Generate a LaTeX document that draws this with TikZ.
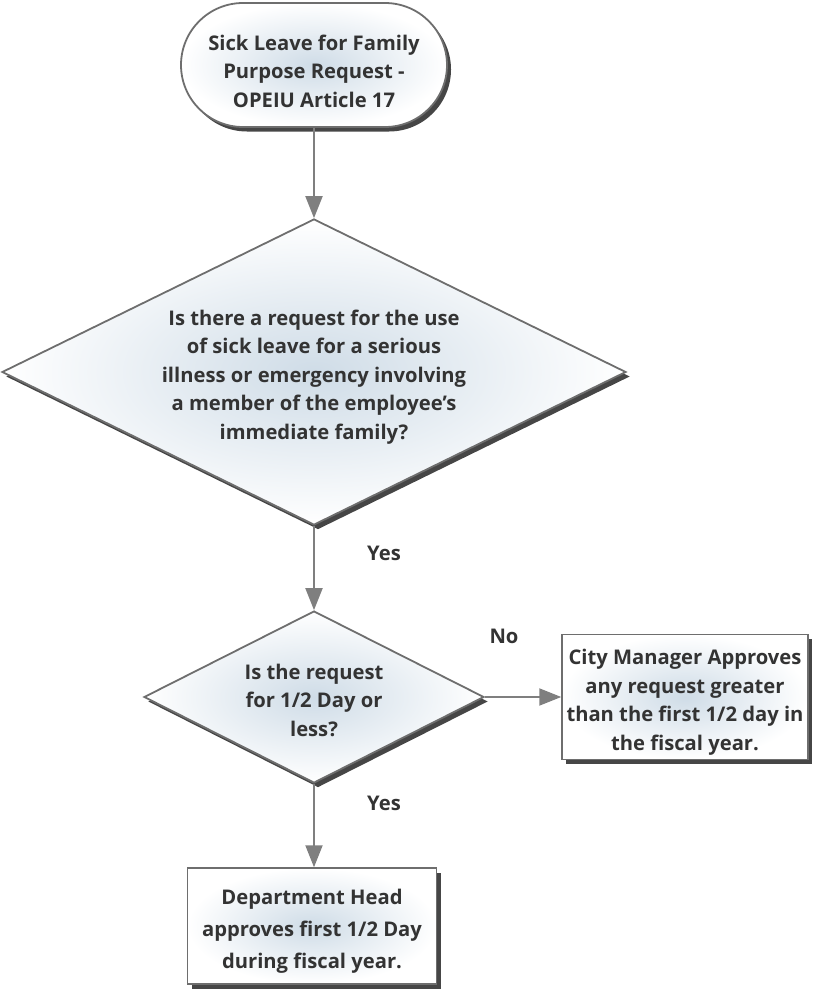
\documentclass[tikz,border=0pt]{standalone}
\usepackage{fontspec}
\setmainfont{Open Sans}
\usetikzlibrary{shapes.geometric,shapes.misc,shadows,arrows.meta}
\definecolor{txt}{HTML}{333333}
\definecolor{edge}{HTML}{6E6E6E}
\definecolor{arr}{HTML}{7F7F7F}
\definecolor{inner}{HTML}{CFDCE7}
\tikzset{
  base/.style={draw=edge, line width=1.8pt, shading=radial, inner color=inner, outer color=white,
    drop shadow={shadow xshift=4pt, shadow yshift=-4.5pt, fill=black!85, opacity=0.85},
    inner sep=0pt},
  term/.style={base, rounded rectangle, minimum width=266pt, minimum height=124pt},
  decide/.style={base, diamond, aspect=2},
  procbox/.style={base, rectangle, line width=1.5pt},
  btext/.style={font=\fontsize{20.2}{28.5}\selectfont\bfseries, text=txt, align=center, inner sep=0pt},
  conn/.style={draw=arr, line width=2pt, -{Triangle[length=22pt, width=17pt]}},
  lbl/.style={font=\fontsize{20.2}{24}\selectfont\bfseries, text=txt},
}
\begin{document}
\begin{tikzpicture}[x=1pt,y=-1pt]
\useasboundingbox (0,0) rectangle (816,998);
\node[term] (start) at (314,65) {};
\node[decide, minimum width=624pt, minimum height=306pt] (q1) at (314,372) {};
\node[decide, minimum width=340pt, minimum height=172pt] (q2) at (314,697) {};
\node[procbox, minimum width=246pt, minimum height=125pt] (cm) at (685,697) {};
\node[procbox, minimum width=249pt, minimum height=116pt] (dh) at (312,926) {};
\node[btext] (start-t) at ([yshift=-6pt]start.center) {Sick Leave for Family\\Purpose Request -\\OPEIU Article 17};
\node[btext] (q1-t) at ([yshift=-5pt]q1.center)
  {Is there a request for the use\\of sick leave for a serious\\illness or emergency involving\\a member of the employee's\\immediate family?};
\node[btext] (q2-t) at ([yshift=-3pt]q2.center) {Is the request\\for 1/2 Day or\\less?};
\node[btext] (cm-t) at ([yshift=-5pt]cm.center)
  {City Manager Approves\\any request greater\\than the first 1/2 day in\\the fiscal year.};
\node[btext, font=\fontsize{20.2}{32}\selectfont\bfseries] (dh-t) at ([yshift=-5pt]dh.center)
  {Department Head\\approves first 1/2 Day\\during fiscal year.};
\draw[conn] (start) -- (q1);
\draw[conn] (q1) -- (q2);
\draw[conn] (q2) -- (cm);
\draw[conn] (q2.south) -- (q2.south |- dh.north);
\node[lbl] (yes1) at (384,553) {Yes};
\node[lbl] (no) at (504,636) {No};
\node[lbl] (yes2) at (384,803) {Yes};
\end{tikzpicture}
\end{document}
